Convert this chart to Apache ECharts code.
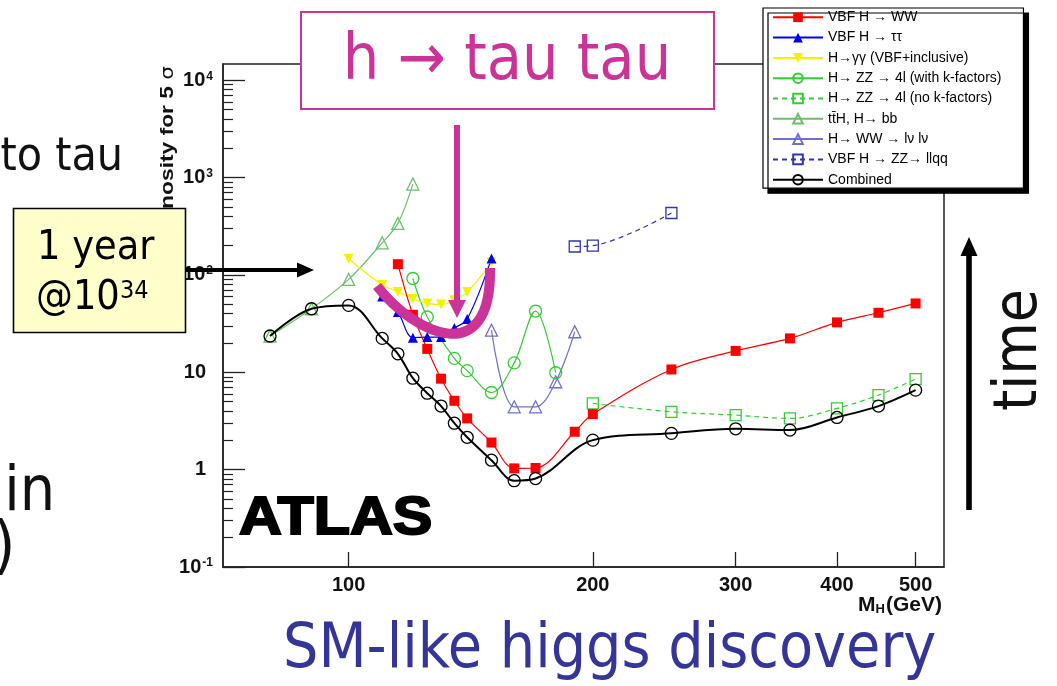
<!DOCTYPE html>
<html>
<head>
<meta charset="utf-8">
<script src="https://cdn.jsdelivr.net/npm/echarts@6/dist/echarts.min.js"></script>
<style>
  html, body { margin: 0; padding: 0; background: #fff; }
  #chart { width: 1057px; height: 686px; }
</style>
</head>
<body>
<div id="chart"></div>
<script>
// Luminosity (fb^-1) needed for a 5 sigma SM Higgs discovery, per channel, vs M_H (GeV)
const massVbfWW   = [115, 120, 125, 130, 135, 140, 150, 160, 170, 190, 200, 250, 300, 350, 400, 450, 500];
const lumiVbfWW   = [129, 39, 17.4, 8.6, 5.1, 3.36, 1.9, 1.03, 1.04, 2.45, 3.72, 10.7, 16.6, 22.3, 32.6, 40.9, 51];

const massVbfTauTau = [110, 115, 120, 125, 130, 135, 140, 150];
const lumiVbfTauTau = [60, 41.6, 22.7, 23, 23, 28.5, 35.2, 148];

const massGamGam  = [100, 110, 115, 120, 125, 130, 135, 140, 150];
const lumiGamGam  = [147, 79, 67, 56.5, 51, 49.6, 55, 66.7, 135];

const massZZ4lK   = [120, 125, 135, 140, 150, 160, 170, 180];
const lumiZZ4lK   = [92, 37, 13.9, 10.4, 6.2, 12.5, 42.6, 9.9];

const massZZ4lNoK = [200, 250, 300, 350, 400, 450, 500];
const lumiZZ4lNoK = [4.79, 3.93, 3.63, 3.36, 4.26, 5.83, 8.51];

const massTTH     = [80, 90, 100, 110, 115, 120];
const lumiTTH     = [23.6, 45, 90, 214, 339, 859];

const massWWlvlv  = [150, 160, 170, 180, 190];
const lumiWWlvlv  = [27.1, 4.42, 4.42, 8.0, 26.1];

const massVbfZZ   = [190, 200, 250];
const lumiVbfZZ   = [196, 200, 433];

const massCombined = [80, 90, 100, 110, 115, 120, 125, 130, 135, 140, 150, 160, 170, 200, 250, 300, 350, 400, 450, 500];
const lumiCombined = [23.6, 45, 48.7, 22.3, 15.5, 8.7, 6.1, 4.5, 3.0, 2.15, 1.25, 0.77, 0.81, 2.01, 2.36, 2.63, 2.55, 3.44, 4.5, 6.56];

const seriesNames = [
  'VBF H → WW',
  'VBF H → ττ',
  'H→γγ (VBF+inclusive)',
  'H→ ZZ → 4l (with k-factors)',
  'H→ ZZ → 4l (no k-factors)',
  't\u0074\u0304H, H→ bb',
  'H→ WW → lν lν',
  'VBF H → ZZ→ llqq',
  'Combined'
];

const xTickValues  = [100, 200, 300, 400, 500];
const yDecadeTicks = [0.1, 1, 10, 100, 1000, 10000];
const yDecadeExponents = ['-1', '', '', '2', '3', '4'];

const pairs = (xs, ys) => xs.map((x, i) => [x, ys[i]]);

// minor log ticks 2..9 within each decade
const yMinorTicks = [];
yDecadeTicks.slice(0, 5).forEach(d => { for (let k = 2; k <= 9; k++) yMinorTicks.push(+(d * k).toPrecision(3)); });

const X_MIN = 70, X_MAX = 542, Y_MIN = 0.1, Y_MAX = 14700;

const labelFont = 'Liberation Sans, Arial, sans-serif';
const slideFont = '"DejaVu Sans Condensed", "DejaVu Sans", sans-serif';
const magenta = '#cc3399';

function lineSeries(name, xs, ys, color, symbol, opts) {
  opts = opts || {};
  const hollow = !!opts.hollow;
  return {
    name: name,
    type: 'line',
    data: pairs(xs, ys),
    smooth: 0.35,
    symbol: symbol,
    symbolSize: opts.size || 10,
    symbolRotate: opts.rotate || 0,
    showSymbol: true,
    showAllSymbol: true,
    lineStyle: { color: color, width: opts.width || 1.2, type: opts.dashed ? [5, 4] : 'solid' },
    itemStyle: hollow
      ? { color: 'transparent', borderColor: color, borderWidth: 1.3 }
      : { color: color, borderWidth: 0 },
    emphasis: { disabled: true },
    z: opts.z || 2
  };
}

const chart = echarts.init(document.getElementById('chart'), null, { renderer: 'canvas' });

const option = {
  animation: false,
  backgroundColor: '#fff',
  grid: {
    left: 223, top: 64, width: 721, height: 503,
    show: true, borderColor: '#222', borderWidth: 1.5, backgroundColor: 'transparent'
  },
  legend: {
    orient: 'vertical',
    left: 763, top: 8,
    itemWidth: 50, itemHeight: 12, itemGap: 6.3,
    padding: [2.3, 22, 1.5, 9],
    backgroundColor: '#fff',
    borderColor: '#000', borderWidth: 1.2,
    shadowColor: '#000', shadowBlur: 0, shadowOffsetX: 5, shadowOffsetY: 5,
    selectedMode: false,
    textStyle: { fontFamily: labelFont, fontSize: 14, color: '#000', lineHeight: 14 },
    data: seriesNames
  },
  xAxis: {
    type: 'log', min: X_MIN, max: X_MAX,
    axisLine: { lineStyle: { color: '#222', width: 1.5 } },
    axisTick: { inside: true, length: 15, customValues: xTickValues, lineStyle: { color: '#222', width: 1.3 } },
    axisLabel: {
      customValues: xTickValues, margin: 8,
      fontFamily: labelFont, fontSize: 20, fontWeight: 'bold', color: '#111'
    },
    splitLine: { show: false }, minorTick: { show: false }
  },
  yAxis: [
    {
      type: 'log', min: Y_MIN, max: Y_MAX,
      axisLine: { lineStyle: { color: '#222', width: 1.5 } },
      axisTick: { inside: true, length: 22, customValues: yDecadeTicks, lineStyle: { color: '#222', width: 1.3 } },
      axisLabel: {
        customValues: yDecadeTicks, margin: 10,
        formatter: function (v) {
          const i = yDecadeTicks.findIndex(t => Math.abs(Math.log10(t) - Math.log10(v)) < 1e-6);
          const exp = i >= 0 ? yDecadeExponents[i] : '';
          if (exp === '') return '{b|' + (v >= 10 ? '10' : '1') + '}{e| }';
          return '{b|10}{s|' + exp + '}';
        },
        rich: {
          b: { fontFamily: labelFont, fontSize: 20, fontWeight: 'bold', color: '#111', lineHeight: 20, padding: [8, 0, 8, 0] },
          s: { fontFamily: labelFont, fontSize: 12, fontWeight: 'bold', color: '#111', lineHeight: 14, verticalAlign: 'top', padding: [0, 0, 0, 1] },
          e: { fontSize: 12, width: 7, lineHeight: 14 }
        }
      },
      splitLine: { show: false }
    },
    {
      type: 'log', min: Y_MIN, max: Y_MAX, position: 'left', offset: 0,
      axisLine: { show: false },
      axisTick: { inside: true, length: 10, customValues: yMinorTicks, lineStyle: { color: '#222', width: 1.2 } },
      axisLabel: { show: false },
      splitLine: { show: false }
    }
  ],
  series: [
    lineSeries(seriesNames[6], massWWlvlv, lumiWWlvlv, '#7070cc', 'triangle', { hollow: true, size: 12 }),
    lineSeries(seriesNames[7], massVbfZZ, lumiVbfZZ, '#3333aa', 'rect', { hollow: true, size: 11, dashed: true }),
    lineSeries(seriesNames[4], massZZ4lNoK, lumiZZ4lNoK, '#33cc33', 'rect', { hollow: true, size: 11, dashed: true }),
    lineSeries(seriesNames[5], massTTH, lumiTTH, '#6cbf6c', 'triangle', { hollow: true, size: 12 }),
    lineSeries(seriesNames[3], massZZ4lK, lumiZZ4lK, '#33cc33', 'circle', { hollow: true, size: 12 }),
    lineSeries(seriesNames[2], massGamGam, lumiGamGam, '#f2f200', 'triangle', { size: 10, rotate: 180 }),
    lineSeries(seriesNames[1], massVbfTauTau, lumiVbfTauTau, '#0000ee', 'triangle', { size: 10 }),
    lineSeries(seriesNames[0], massVbfWW, lumiVbfWW, '#ff0000', 'rect', { size: 10 }),
    lineSeries(seriesNames[8], massCombined, lumiCombined, '#000000', 'circle', { hollow: true, size: 12, width: 2, z: 3 })
  ],
  graphic: [
    // vertical axis title (bottom-to-top)
    {
      type: 'text', x: 168, y: 66, rotation: Math.PI / 2, scaleX: 1.2, z: 90,
      style: {
        text: '{a|Luminosity for 5 }{b|σ}',
        align: 'right', verticalAlign: 'middle',
        rich: {
          a: { fontFamily: labelFont, fontSize: 19, fontWeight: 'bold', fill: '#111' },
          b: { fontFamily: 'DejaVu Sans, sans-serif', fontSize: 18, fill: '#111' }
        }
      }
    },
    // horizontal axis title
    {
      type: 'text', x: 942, y: 605, z: 90,
      style: {
        text: '{m|M}{h|H}{m|(GeV)}', align: 'right', verticalAlign: 'middle',
        rich: {
          m: { fontFamily: labelFont, fontSize: 21, fontWeight: 'bold', fill: '#111' },
          h: { fontFamily: labelFont, fontSize: 13, fontWeight: 'bold', fill: '#111', verticalAlign: 'bottom', lineHeight: 13, padding: [0, 1, 0, 0] }
        }
      }
    },
    {
      type: 'text', x: 239, y: 519, scaleX: 1.12, z: 90,
      style: {
        text: 'ATLAS', fontFamily: labelFont, fontSize: 53, fontWeight: 'bold',
        fill: '#000', stroke: '#000', lineWidth: 2, align: 'left', verticalAlign: 'middle'
      }
    },
    // slide annotations
    {
      type: 'text', x: 123, y: 158, z: 100,
      style: { text: 'to tau', fontFamily: slideFont, fontSize: 46, fill: '#111', align: 'right', verticalAlign: 'middle' }
    },
    {
      type: 'text', x: 55, y: 494, z: 100,
      style: { text: 'in', fontFamily: slideFont, fontSize: 62, fill: '#111', align: 'right', verticalAlign: 'middle' }
    },
    {
      type: 'text', x: -7, y: 550, z: 100,
      style: { text: ')', fontFamily: slideFont, fontSize: 64, fill: '#111', align: 'left', verticalAlign: 'middle' }
    },
    {
      type: 'rect', z: 100,
      shape: { x: 13.5, y: 208.5, width: 172, height: 124 },
      style: { fill: '#ffffcc', stroke: '#000', lineWidth: 1.6 }
    },
    {
      type: 'text', x: 37, y: 248, z: 101,
      style: { text: '1 year', fontFamily: slideFont, fontSize: 41, fill: '#000', align: 'left', verticalAlign: 'middle' }
    },
    {
      type: 'text', x: 36, y: 298, z: 101,
      style: { text: '@10', fontFamily: slideFont, fontSize: 41, fill: '#000', align: 'left', verticalAlign: 'middle' }
    },
    {
      type: 'text', x: 120, y: 291, z: 101,
      style: { text: '34', fontFamily: slideFont, fontSize: 25, fill: '#000', align: 'left', verticalAlign: 'middle' }
    },
    {
      type: 'line', z: 100,
      shape: { x1: 186, y1: 270, x2: 300, y2: 270 },
      style: { stroke: '#000', lineWidth: 4 }
    },
    {
      type: 'polygon', z: 100,
      shape: { points: [[297, 262.5], [314, 270], [297, 277.5]] },
      style: { fill: '#000' }
    },
    {
      type: 'rect', z: 100,
      shape: { x: 301, y: 12, width: 413, height: 97 },
      style: { fill: '#fff', stroke: magenta, lineWidth: 2 }
    },
    {
      type: 'text', x: 507, y: 62, z: 101,
      style: { text: 'h → tau tau', fontFamily: slideFont, fontSize: 64, fill: magenta, align: 'center', verticalAlign: 'middle' }
    },
    {
      type: 'rect', z: 100,
      shape: { x: 454, y: 125, width: 6, height: 178 },
      style: { fill: magenta }
    },
    {
      type: 'polygon', z: 100,
      shape: { points: [[448, 300], [466, 300], [457, 318]] },
      style: { fill: magenta }
    },
    {
      type: 'bezierCurve', z: 100,
      shape: { x1: 377, y1: 286, cpx1: 415, cpy1: 335, cpx2: 492, cpy2: 370, x2: 490, y2: 268 },
      style: { stroke: magenta, lineWidth: 10, fill: 'none', lineCap: 'butt' }
    },
    {
      type: 'rect', z: 100,
      shape: { x: 966.2, y: 253, width: 5.6, height: 257 },
      style: { fill: '#000' }
    },
    {
      type: 'polygon', z: 100,
      shape: { points: [[960.5, 256], [977.5, 256], [969, 237]] },
      style: { fill: '#000' }
    },
    {
      type: 'text', x: 1020, y: 350, rotation: Math.PI / 2, z: 100,
      style: { text: 'time', fontFamily: slideFont, fontSize: 60, fill: '#111', align: 'center', verticalAlign: 'middle' }
    },
    {
      type: 'text', x: 283, y: 651, z: 100,
      style: { text: 'SM-like higgs discovery', fontFamily: slideFont, fontSize: 62, fill: '#353499', align: 'left', verticalAlign: 'middle' }
    }
  ]
};

chart.setOption(option);
</script>
</body>
</html>
